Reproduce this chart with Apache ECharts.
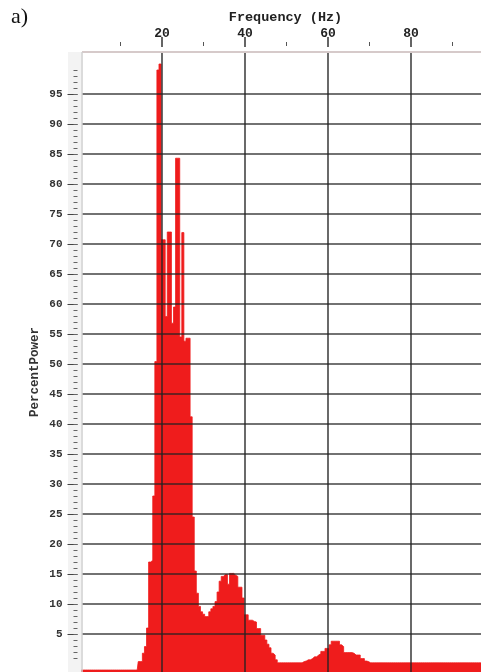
<!DOCTYPE html>
<html>
<head>
<meta charset="utf-8">
<script src="https://cdn.jsdelivr.net/npm/echarts@6/dist/echarts.min.js"></script>
<style>
html,body{margin:0;padding:0;background:#fff;}
#chart{width:481px;height:672px;}
</style>
</head>
<body>
<div id="chart"></div>
<script>
// Frequency bins (Hz): first bin centre and bin width
const binStart = 0.5;
const binStep = 0.5;
// Percent power per 0.5 Hz bin (0.5 Hz ... 100 Hz)
const percentPower = [
  -1, -1, -1, -1, -1, -1, -1, -1, -1, -1,
  -1, -1, -1, -1, -1, -1, -1, -1, -1, -1,
  -1, -1, -1, -1, -1, -1, -1, -1,
  0.4, 0.4,
  1.8, 2.9, 6, 17, 17.3, 28, 50.4, 99, 100, 70.7,
  70.7, 57.9, 72, 72, 56.8, 59.5, 84.3, 84.3, 54.5, 71.9,
  53.8, 54.3, 54.3, 41.2, 24.5, 15.5, 11.8, 9.6, 8.7, 8.3,
  7.9, 7.9, 8.7, 9.2, 9.6, 10.4, 12, 13.8, 14.6, 14.9,
  14.9, 13.3, 15.1, 15.1, 14.8, 14.6, 12.8, 12.8, 11, 8.2,
  8.2, 7.3, 7.3, 7.1, 7.0, 5.9, 5.9, 4.8, 4.8, 4.0,
  3.3, 2.7, 1.8, 1.5, 0.7,
  0.2, 0.2, 0.2, 0.2, 0.2, 0.2, 0.2, 0.2, 0.2, 0.2, 0.2, 0.2,
  0.4, 0.5, 0.7, 0.7, 0.9, 1.2, 1.2, 1.5, 1.7, 2.1,
  2.1, 2.6, 2.6, 3.2, 3.8, 3.8, 3.8, 3.8, 3.2, 2.9,
  1.9, 1.9, 1.9, 1.9, 1.8, 1.5, 1.5, 1.5, 0.9, 0.9,
  0.5, 0.4,
  0.2, 0.2, 0.2, 0.2, 0.2, 0.2, 0.2, 0.2, 0.2, 0.2,
  0.2, 0.2, 0.2, 0.2, 0.2, 0.2, 0.2, 0.2, 0.2, 0.2,
  0.2, 0.2, 0.2, 0.2, 0.2, 0.2, 0.2, 0.2, 0.2, 0.2,
  0.2, 0.2, 0.2, 0.2, 0.2, 0.2, 0.2, 0.2, 0.2, 0.2,
  0.2, 0.2, 0.2, 0.2, 0.2, 0.2, 0.2, 0.2, 0.2, 0.2,
  0.2, 0.2, 0.2, 0.2, 0.2, 0.2, 0.2, 0.2, 0.2, 0.2,
  0.2
];
// Axis ticks and labels
const xTickLabels = [20, 40, 60, 80];
const xMinorTicks = [10, 30, 50, 70, 90];
const yTickLabels = [5, 10, 15, 20, 25, 30, 35, 40, 45, 50, 55, 60, 65, 70, 75, 80, 85, 90, 95];
const yMinorTicks = [];
for (let v = 1; v <= 99; v++) yMinorTicks.push(v);

const xTitle = 'Frequency (Hz)';
const yTitle = 'PercentPower';
const panelLabel = 'a)';

// visible axis extents (the plot is cropped at the right and bottom)
const xMin = 0.7, xMax = 96.85, yMin = -1.33, yMax = 102;

const seriesData = percentPower.map((v, i) => [binStart + i * binStep, v]);

const chart = echarts.init(document.getElementById('chart'), null, {renderer: 'canvas'});
const mono = "'Liberation Mono', 'DejaVu Sans Mono', monospace";

const gridBase = {left: 82, width: 399, show: false, outerBoundsMode: 'none', containLabel: false};
const hiddenY = (gi) => ({type: 'value', gridIndex: gi, show: false, min: 0, max: 1, axisLine: {show: false, onZero: false}});

const option = {
  animation: false,
  backgroundColor: '#ffffff',
  grid: [
    Object.assign({top: 52, height: 620}, gridBase),
    Object.assign({top: 37, height: 10}, gridBase),
    Object.assign({top: 42, height: 4}, gridBase)
  ],
  graphic: [
    {type: 'rect', shape: {x: 68, y: 52, width: 13, height: 620}, style: {fill: '#f3f3f3'}, z: -1},
    {type: 'text', x: 11, y: 6, style: {text: panelLabel, font: "22px 'Liberation Serif', serif", fill: '#111'}},
    {type: 'text', x: 285.5, y: 18,
     style: {text: xTitle, font: 'bold 13.5px ' + mono, fill: '#222', align: 'center', verticalAlign: 'middle'}},
    {type: 'text', x: 35, y: 372, rotation: Math.PI / 2,
     style: {text: yTitle, font: 'bold 12.5px ' + mono, fill: '#333', align: 'center', verticalAlign: 'middle'}}
  ],
  xAxis: [
    {
      type: 'value', gridIndex: 0, position: 'top', min: xMin, max: xMax, offset: 5,
      axisLine: {show: false, onZero: false},
      axisTick: {show: false},
      axisLabel: {customValues: xTickLabels, fontFamily: mono, fontWeight: 'bold', fontSize: 13, color: '#222', margin: 7},
      splitLine: {show: false}
    },
    {
      type: 'value', gridIndex: 1, position: 'bottom', min: xMin, max: xMax,
      axisLine: {show: false, onZero: false},
      axisTick: {show: true, inside: true, customValues: xTickLabels, length: 10, lineStyle: {color: '#333', width: 1.5}},
      axisLabel: {show: false},
      splitLine: {show: false}
    },
    {
      type: 'value', gridIndex: 2, position: 'bottom', min: xMin, max: xMax,
      axisLine: {show: false, onZero: false},
      axisTick: {show: true, inside: true, customValues: xMinorTicks, length: 4, lineStyle: {color: '#555', width: 1}},
      axisLabel: {show: false},
      splitLine: {show: false}
    }
  ],
  yAxis: [
    {
      type: 'value', gridIndex: 0, position: 'left', min: yMin, max: yMax, offset: 4.5,
      axisLine: {show: false, onZero: false},
      axisTick: {show: true, customValues: yTickLabels, length: 10, lineStyle: {color: '#444', width: 1}},
      axisLabel: {customValues: yTickLabels, fontFamily: mono, fontWeight: 'bold', fontSize: 11, color: '#333', margin: 15},
      splitLine: {show: false}
    },
    {
      type: 'value', gridIndex: 0, position: 'left', min: yMin, max: yMax, offset: 4.5,
      axisLine: {show: false, onZero: false},
      axisTick: {show: true, customValues: yMinorTicks, length: 4, lineStyle: {color: '#666', width: 1}},
      axisLabel: {show: false},
      splitLine: {show: false}
    },
    hiddenY(1),
    hiddenY(2)
  ],
  series: [
    {
      type: 'line', xAxisIndex: 0, yAxisIndex: 0,
      data: seriesData, step: 'middle', symbol: 'none', silent: true,
      lineStyle: {color: '#ef1c1c', width: 0.8},
      areaStyle: {color: '#ef1c1c', opacity: 1, origin: 'start'},
      markLine: {
        silent: true, symbol: 'none', animation: false,
        label: {show: false},
        lineStyle: {color: '#222222', width: 1.6, type: 'solid', opacity: 0.85},
        emphasis: {disabled: true},
        data: yTickLabels.map(v => ({yAxis: v}))
          .concat(xTickLabels.map(v => ({xAxis: v})))
          .concat([
            {yAxis: yMax, lineStyle: {color: '#d6caca', width: 2, opacity: 1}},
            {xAxis: xMin, lineStyle: {color: '#cfcfcf', width: 1.5, opacity: 1}}
          ])
      }
    }
  ]
};
chart.setOption(option);
</script>
</body>
</html>
